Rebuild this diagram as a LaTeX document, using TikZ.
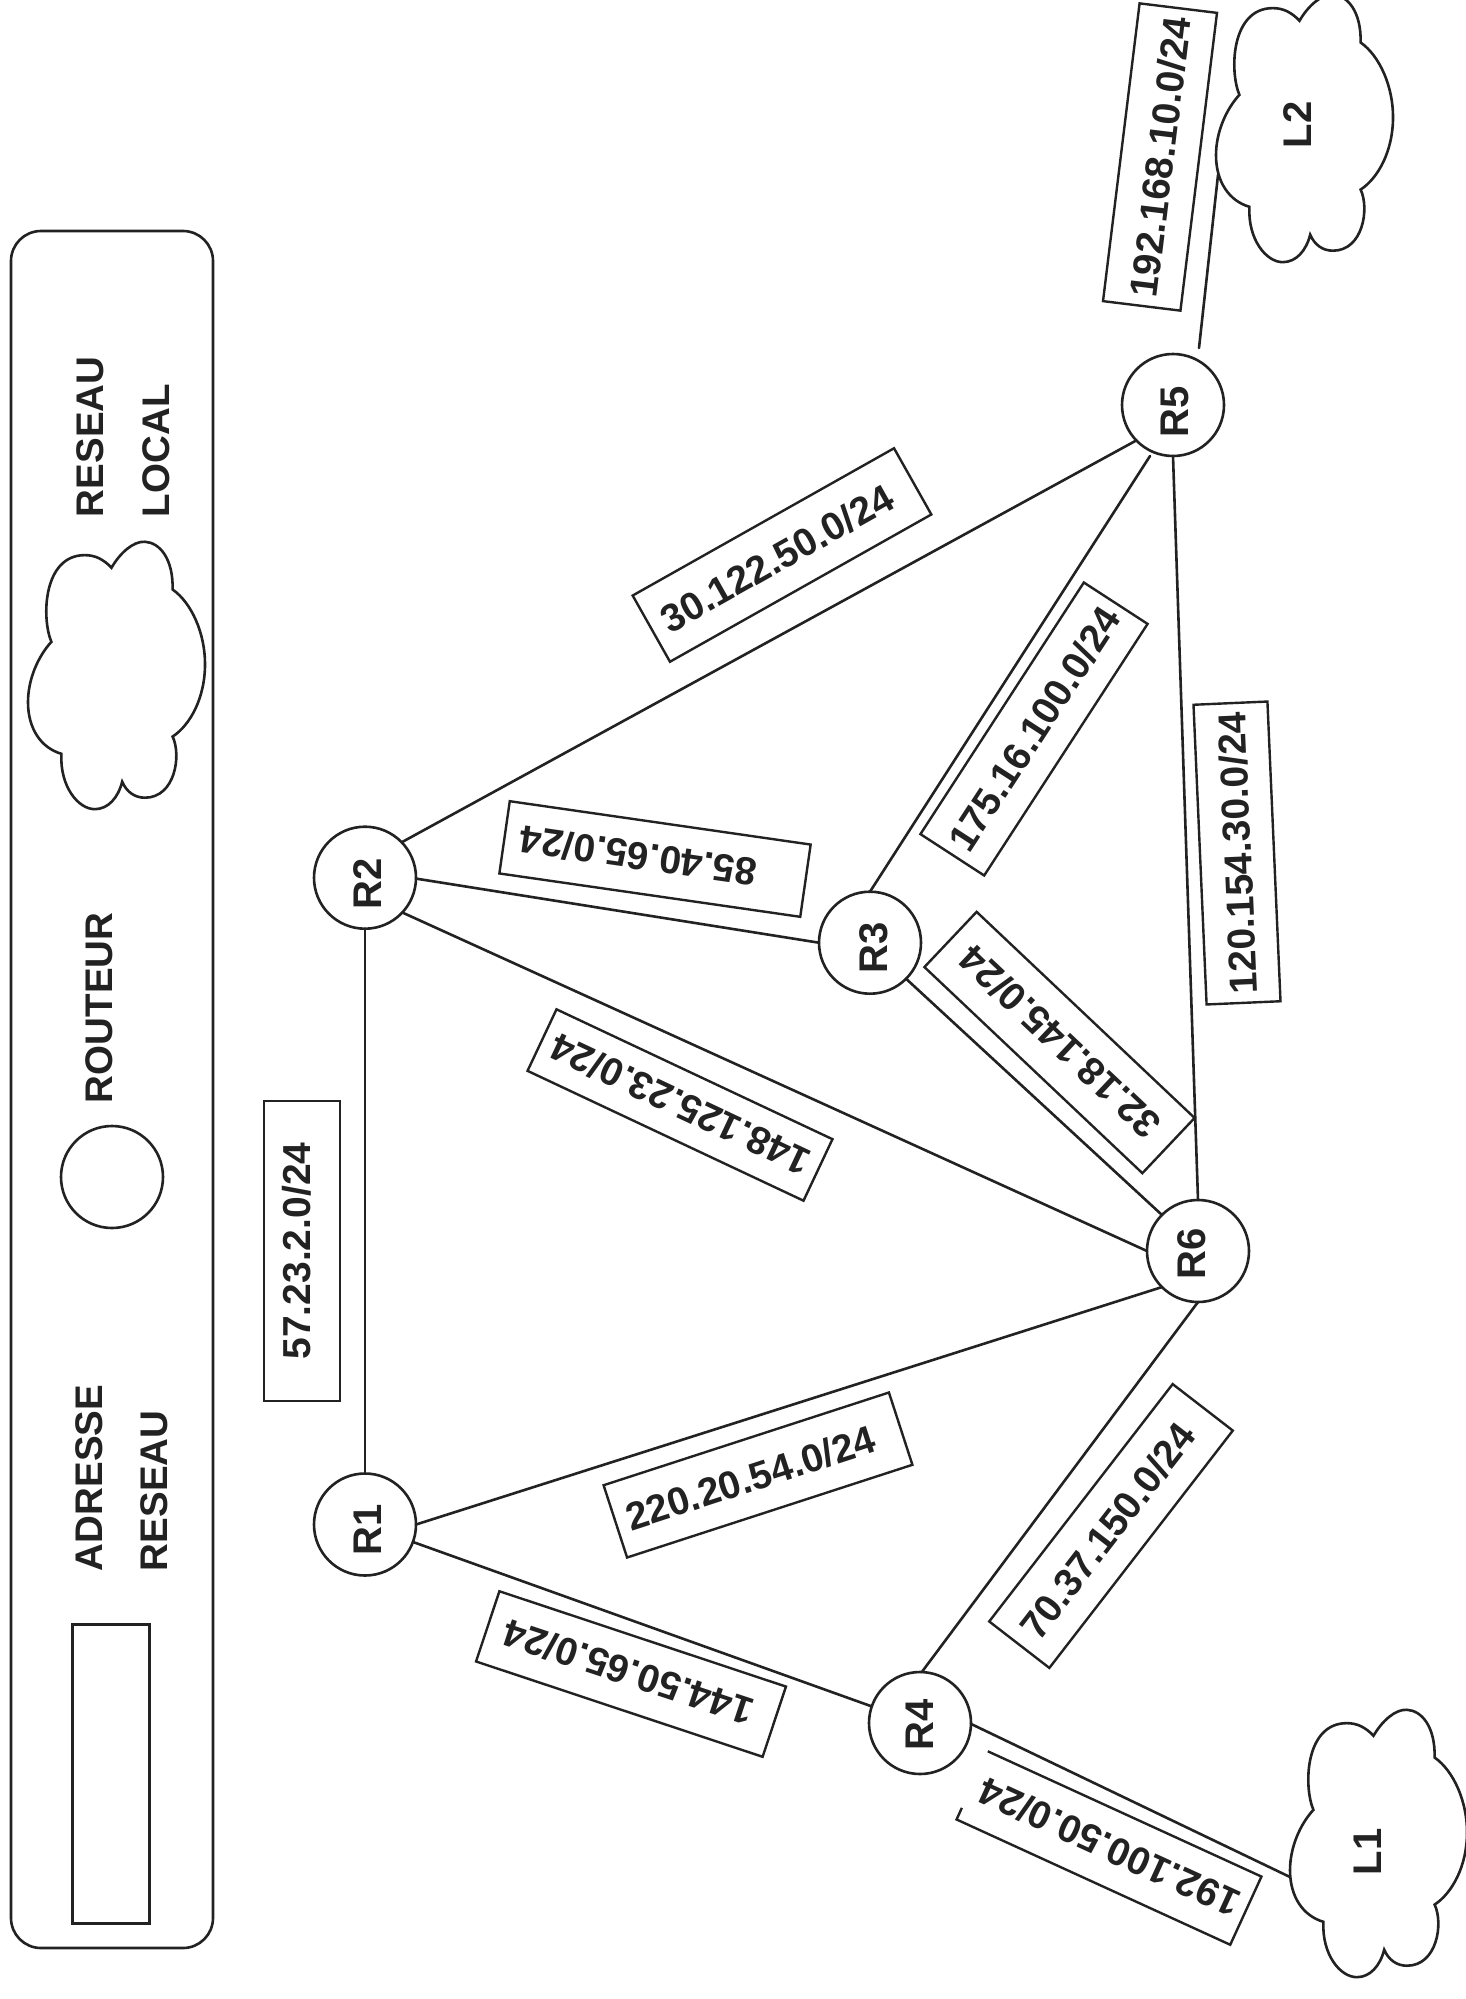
\documentclass[tikz,border=0pt]{standalone}
\usepackage{fontspec}
\setmainfont{Liberation Sans}
\usetikzlibrary{calc}
\definecolor{ink}{HTML}{222222}
\tikzset{
  ln/.style={draw=ink,line width=2.6pt,line cap=round},
  txt/.style={font=\fontsize{39pt}{39pt}\selectfont\bfseries,text=ink,inner sep=0pt,outer sep=0pt,text height=28.5pt,text depth=0pt},
  lab/.style={txt,draw=ink,line width=2.4pt,minimum width=300pt,minimum height=76pt},
  labopen/.style={txt,minimum width=301pt,minimum height=75pt},
  router/.style={circle,draw=ink,line width=2.6pt,minimum size=102pt,inner sep=0pt,outer sep=0pt},
  rtxt/.style={txt,font=\fontsize{40pt}{40pt}\selectfont\bfseries,rotate=90},
  leg/.style={txt,font=\fontsize{38.5pt}{38.5pt}\selectfont\bfseries,rotate=90,anchor=west},
  cloudtxt/.style={txt,font=\fontsize{40pt}{40pt}\selectfont\bfseries,rotate=90}
}
\newcommand{\cloudat}[2]{%
  \begin{scope}[shift={(#1,#2)},xscale=.334,yscale=.382,shift={(-85,-838)}]
    \draw[ln,line join=miter,fill=white]
      (335,908) .. controls (360,870) and (400,838) .. (435,840)
      .. controls (480,842) and (520,885) .. (518,965)
      .. controls (575,1000) and (615,1080) .. (615,1160)
      .. controls (615,1250) and (570,1320) .. (518,1350)
      .. controls (545,1400) and (525,1510) .. (435,1510)
      .. controls (405,1510) and (380,1495) .. (367,1468)
      .. controls (355,1510) and (325,1540) .. (285,1540)
      .. controls (235,1540) and (180,1480) .. (185,1395)
      .. controls (125,1380) and (85,1330) .. (85,1260)
      .. controls (85,1200) and (115,1140) .. (155,1102)
      .. controls (125,1040) and (130,875) .. (255,875)
      .. controls (285,875) and (310,885) .. (335,908) -- cycle;
  \end{scope}}
\begin{document}
\begin{tikzpicture}[x=1pt,y=-1pt]
\useasboundingbox (0,0) rectangle (1465,1999);
\fill[white] (0,0) rectangle (1465,1999);
% legend
\node[draw=ink,line width=2.6pt,rounded corners=30pt,minimum width=202pt,minimum height=1717pt,inner sep=0pt] (legend) at (112,1089.5) {};
\node[draw=ink,line width=2.6pt,minimum width=77pt,minimum height=299pt,inner sep=0pt] (legrect) at (111,1774) {};
\node[router] (legcirc) at (112,1177) {};
\cloudat{28}{541}
\node[leg] (t1) at (88,1571) {ADRESSE};
\node[leg] (t2) at (153,1571) {RESEAU};
\node[leg] (t3) at (98,1103) {ROUTEUR};
\node[leg] (t4) at (89,517) {RESEAU};
\node[leg] (t5) at (155,517) {LOCAL};
% clouds
\cloudat{1290}{1709}
\cloudat{1216}{-6}
\node[cloudtxt] (L1) at (1367,1852) {L1};
\node[cloudtxt] (L2) at (1297,125) {L2};
\coordinate (cL1) at (1290,1877);
\coordinate (cL2) at (1218,175);
\coordinate (fL2) at (1199,348);
\coordinate (f35) at (1150,456);
% routers
\node[router] (R1) at (365,1524.5) {};
\node[router] (R2) at (365,877.7) {};
\node[router] (R3) at (870,942.7) {};
\node[router] (R4) at (920,1723) {};
\node[router] (R5) at (1173,405) {};
\node[router] (R6) at (1198,1251) {};
\node[rtxt] (R1t) at (367,1530) {R1};
\node[rtxt] (R2t) at (367,884) {R2};
\node[rtxt] (R3t) at (873,948) {R3};
\node[rtxt] (R4t) at (919,1725) {R4};
\node[rtxt] (R5t) at (1174,412) {R5};
\node[rtxt] (R6t) at (1191,1254) {R6};
% links
\draw[ln] (R1.90) -- (R2.-90);
\draw[ln] (R1.0) -- (R6.225);
\draw[ln] (R1.-20) -- (R4.161);
\draw[ln] (R2.44) -- (R5.224);
\draw[ln] (R2.-1) -- (R3.180);
\draw[ln] (R2.-43) -- (R6.180);
\draw[ln] (R3.-45) -- (R6.135);
\draw[ln] (R3.90) -- (f35);
\draw[ln] (R5.-90) -- (R6.90);
\draw[ln] (R4.88) -- (R6.-90);
\draw[ln] (R4.-1) -- (cL1);
\draw[ln] (fL2) -- (cL2);
% labels
\node[lab,rotate=90] (n1) at (302,1251) {\raisebox{6pt}{57.23.2.0/24}};
\node[lab,rotate=161.6,minimum height=74pt,minimum width=302pt] (n2) at (631,1674) {\hspace{6pt}144.50.65.0/24};
\node[lab,rotate=18] (n3) at (758,1475) {220.20.54.0/24\kern16pt};
\node[lab,rotate=52.3] (n4) at (1111,1526) {70.37.150.0/24\kern12pt};
\node[labopen,rotate=155.4] (n5) at (1109,1848) {192.100.50.0/24};
\draw[draw=ink,line width=2.4pt] ($(n5.north east)!0.17!(n5.south east)$) -- (n5.north east) -- (n5.north west) -- (n5.south west) -- (n5.south east);
\node[lab,rotate=154.8,minimum width=305pt,minimum height=68pt] (n6) at (680,1105) {148.125.23.0/24};
\node[lab,rotate=171.8,minimum width=304pt,minimum height=73pt] (n7) at (655,859) {\hspace{34pt}85.40.65.0/24};
\node[lab,rotate=136.6] (n8) at (1059.5,1042.5) {32.18.145.0/24};
\node[lab,rotate=57] (n9) at (1034,729) {175.16.100.0/24};
\node[lab,rotate=92.5,minimum height=74pt] (n10) at (1237,853) {120.154.30.0/24};
\node[lab,rotate=29.4] (n11) at (782,555) {30.122.50.0/24\kern12pt};
\node[lab,rotate=83,minimum height=78pt] (n12) at (1160,157) {192.168.10.0/24};
\end{tikzpicture}
\end{document}
